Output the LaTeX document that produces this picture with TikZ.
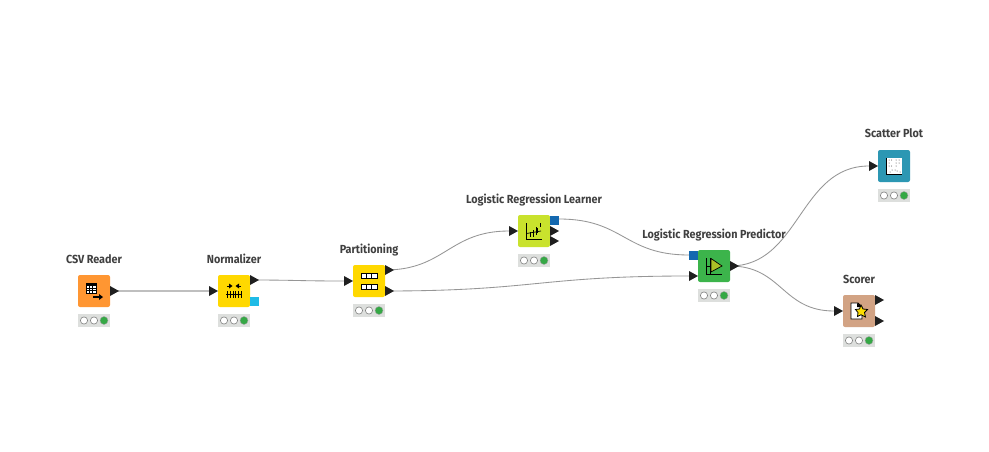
\documentclass[tikz,border=0pt]{standalone}
\usepackage{fontspec}
\setmainfont{Fira Sans}
\newfontfamily\lblfont[FakeStretch=0.925]{Fira Sans}
\definecolor{lbl}{HTML}{404040}
\definecolor{wire}{HTML}{969696}
\definecolor{portk}{HTML}{1F1F1F}
\definecolor{statusbg}{HTML}{DDDFDD}
\definecolor{statusg}{HTML}{35A845}
\definecolor{cOrange}{HTML}{FF9632}
\definecolor{cYellow}{HTML}{FFD800}
\definecolor{cLime}{HTML}{C9E22D}
\definecolor{cGreen}{HTML}{3CB44B}
\definecolor{cTeal}{HTML}{2C97B3}
\definecolor{cTan}{HTML}{D2A384}
\definecolor{pBlue}{HTML}{1469B0}
\definecolor{pCyan}{HTML}{1FBBE6}
\tikzset{
  x=1pt,y=-1pt,
  kbox/.style={draw=none,rounded corners=2pt,minimum size=32pt,inner sep=0pt,outer sep=0pt,anchor=north west},
  ktitle/.style={font=\lblfont\bfseries\fontsize{11.7}{13}\selectfont,text=lbl,anchor=base,inner sep=0pt},
  wirestyle/.style={draw=wire,line width=0.85pt},
  wireb/.style={draw=black!25,line width=1.6pt},
  porttri/.style={fill=portk,draw=none},
  icon/.style={draw=black,line width=0.9pt},
}
\newcommand{\knode}[5]{% name, x, y, colour, title
  \node[kbox,fill=#4] (#1) at (#2,#3) {};
  \node[ktitle] (#1-t) at ($(#2,#3)+(16,-12)$) {#5};
  \fill[statusbg] ($(#2,#3)+(0,39)$) rectangle ++(32,13);
  \foreach \d in {6,16}{\draw[fill=white,draw=black!50,line width=0.6pt] ($(#2,#3)+(\d,45.5)$) circle (3.6);}
  \draw[fill=statusg,draw=black!35,line width=0.4pt] ($(#2,#3)+(26,45.5)$) circle (4);
}
\newcommand{\tri}[3]{% name, x(tip end start), y
  \coordinate (#1) at (#2,#3);
  \fill[porttri] (#2,#3-5) -- (#2+9,#3) -- (#2,#3+5) -- cycle;
}
\usetikzlibrary{calc}
\begin{document}
\begin{tikzpicture}
\useasboundingbox (0,0) rectangle (989,452);
\fill[white] (0,0) rectangle (989,452);
% connectors are drawn first
\coordinate (csvO) at (110,291);
\coordinate (normI) at (209,291);
\coordinate (normO) at (250,280);
\coordinate (partI) at (344,281);
\coordinate (partO) at (385,270);
\coordinate (partP) at (385,291);
\coordinate (learnI) at (509,231);
\coordinate (learnM) at (559,219);
\coordinate (predM) at (689,255);
\coordinate (predI) at (689,276);
\coordinate (predO) at (730,266);
\coordinate (scatI) at (869,166);
\coordinate (scorI) at (834,311);
\draw[wireb] (csvO) -- (normI);
\draw[wirestyle] (normO) .. controls +(45,0) and +(-45,0) .. (partI);
\draw[wirestyle] (partO) .. controls +(60,0) and +(-60,0) .. (learnI);
\draw[wirestyle] (partP) .. controls +(150,0) and +(-150,0) .. (predI);
\draw[wirestyle] (learnM) .. controls +(65,0) and +(-65,0) .. (predM);
\draw[wirestyle] (predO) .. controls +(70,0) and +(-70,0) .. (scatI);
\draw[wirestyle] (predO) .. controls +(52,0) and +(-52,0) .. (scorI);
\knode{csv}{78}{275}{cOrange}{CSV Reader}
\knode{norm}{218}{275}{cYellow}{Normalizer}
\knode{part}{353}{265}{cYellow}{Partitioning}
\knode{learn}{518}{215}{cLime}{Logistic Regression Learner}
\knode{pred}{698}{250}{cGreen}{Logistic Regression Predictor}
\knode{scat}{878}{150}{cTeal}{Scatter Plot}
\knode{scor}{843}{295}{cTan}{Scorer}
% ports
\tri{a}{110}{291}\tri{b}{209}{291}\tri{c}{250}{280}
\fill[pCyan] (250,297) rectangle (259,306);
\tri{d}{344}{281}\tri{e}{385}{270}\tri{f}{385}{291}
\tri{g}{509}{231}\tri{h}{550}{231}\tri{i}{550}{241}
\fill[pBlue] (550,216) rectangle (559,225);
\fill[pBlue] (689,251) rectangle (698,260);
\tri{j}{689}{276}\tri{k}{730}{266}
\tri{l}{869}{166}\tri{m}{834}{311}\tri{n}{875}{300}\tri{o}{875}{321}
% CSV icon
\begin{scope}[shift={(78,275)}]
 \fill[white] (8,8) rectangle (18,18);
 \draw[icon] (8,8) rectangle (18,18);
 \fill (8,8) rectangle (18,10.5);
 \draw[black,line width=0.6pt] (11.3,10)--(11.3,18) (14.6,10)--(14.6,18) (8,13.3)--(18,13.3) (8,15.6)--(18,15.6);
 \draw[black,line width=1.2pt] (15,22)--(22,22);
 \fill (21,19)--(25,22)--(21,25)--cycle;
\end{scope}
% Normalizer icon
\begin{scope}[shift={(218,275)}]
 \draw[black,line width=0.8pt] (8,19)--(24,19);
 \foreach \q in {9,12,15,17,20,23}{\draw[black,line width=0.7pt] (\q,16)--(\q,22.5);}
 \draw[black,line width=0.9pt] (9,11)--(13,11) (19,11)--(23,11);
 \fill (11,8.5)--(14.5,11)--(11,13.5)--cycle (21,8.5)--(17.5,11)--(21,13.5)--cycle;
\end{scope}
% Partitioning icon
\begin{scope}[shift={(353,265)}]
 \foreach \yy in {8,19}{
  \fill[white] (8,\yy) rectangle (24,\yy+5);
  \draw[black,line width=1pt] (8,\yy) rectangle (24,\yy+5);
  \draw[black,line width=0.9pt] (13.3,\yy)--(13.3,\yy+5) (18.6,\yy)--(18.6,\yy+5);
 }
\end{scope}
% Learner icon
\begin{scope}[shift={(518,215)}]
 \draw[black,line width=0.9pt] (8.5,8)--(8.5,24)--(24,24);
 \draw[black,line width=0.7pt] (8.5,18.5)--(23,16);
 \foreach \q/\r/\s in {12.5/17/22,15.5/15/22,18.5/12/20,19.8/13/18,22/8/12}{\draw[black,line width=0.9pt] (\q,\r)--(\q,\s);}
\end{scope}
% Predictor icon
\begin{scope}[shift={(698,250)}]
 \draw[black,line width=0.9pt] (8.5,8)--(8.5,24)--(24,24);
 \draw[black,line width=0.8pt] (8.5,16)--(14,16);
 \draw[black,line width=0.8pt] (12.5,8)--(12.5,24);
 \draw[black,line width=0.7pt,fill=cLime!85!black] (13,8.5)--(24,16)--(13,22)--cycle;
\end{scope}
% Scatter icon
\begin{scope}[shift={(878,150)}]
 \fill[white] (8,8) rectangle (24,24);
 \draw[black,line width=0.7pt] (8,8)--(8,24)--(24,24);
 \foreach \p/\r in {11/10,13.5/10,18/10,21/10,11/13,18/13,21/13,11/16,13.5/16,18/16,14/20,17/20,12/22,19/21,22/22}{\fill[black!75] (\p,\r) circle (0.5);}
\end{scope}
% Scorer icon
\begin{scope}[shift={(843,295)}]
 \draw[black,fill=white,line width=0.8pt] (8,8)--(15,8)--(19,12)--(19,24)--(8,24)--cycle;
 \fill[black] (14,8)--(19,12)--(14,12)--cycle;
 \draw[black,fill=yellow!80!orange,line width=0.8pt] (18,10)--(20,14)--(24.5,14.5)--(21.5,17.5)--(22.5,22)--(18,19.8)--(14.5,21.5)--(15,17.5)--(12.5,14.5)--(16.5,14)--cycle;
\end{scope}
\end{tikzpicture}
\end{document}
